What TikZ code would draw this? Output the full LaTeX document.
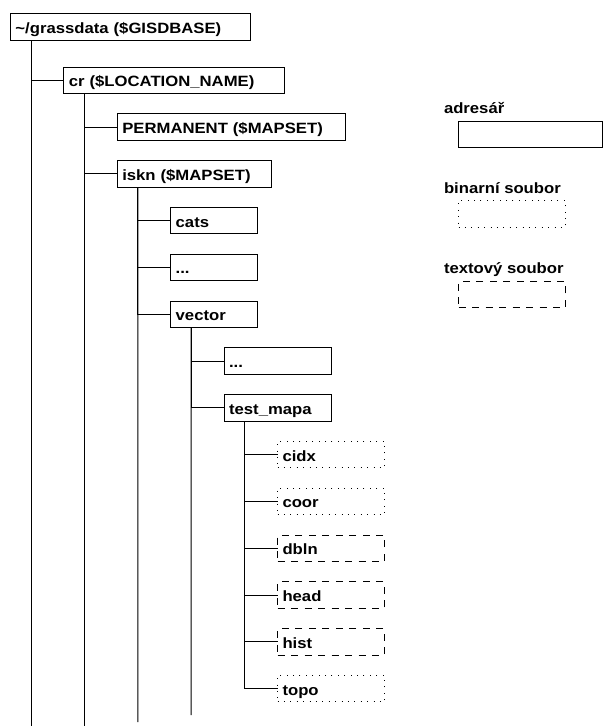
\documentclass[tikz,border=0pt]{standalone}
\usepackage{fontspec}
\setmainfont{Liberation Sans}[FakeStretch=1.12]

\tikzstyle{every node}=[font=\fontsize{14.9}{17}\selectfont\bfseries, inner sep=0pt, outer sep=0pt, anchor=west]
\tikzstyle{dir} = [draw, line width=1pt, inner xsep=5pt, minimum height=26.5pt, text height=13pt, text depth=0pt, align=left]
\tikzstyle{bin} = [dir, dash pattern=on 1pt off 5.4pt, text width=97pt]
\tikzstyle{txt} = [dir, dash pattern=on 7pt off 6.5pt, text width=97pt]
\tikzstyle{lbl} = [anchor=base west]

\begin{document}
\begin{tikzpicture}[x=1pt, y=1pt, line width=1pt]
  \useasboundingbox (0,0) rectangle (603,-726);
  \node[dir, text width=230pt] (gd) at (10.5,-26.75) {\textasciitilde/grassdata (\$GISDBASE)};
  \node[dir, text width=211pt] (cr) at ([shift={(53.4,-53.5)}]gd.west) {cr (\$LOCATION\_NAME)};
  \node[dir, text width=218pt] (perm) at ([shift={(53.4,-46.8)}]cr.west) {PERMANENT (\$MAPSET)};
  \node[dir, text width=144pt] (iskn) at ([shift={(53.4,-93.6)}]cr.west) {iskn (\$MAPSET)};
  \node[dir, text width=77pt] (cats) at ([shift={(53.4,-46.8)}]iskn.west) {cats};
  \node[dir, text width=77pt] (dots1) at ([shift={(53.4,-93.6)}]iskn.west) {...};
  \node[dir, text width=77pt] (vect) at ([shift={(53.4,-140.4)}]iskn.west) {vector};
  \node[dir, text width=97pt] (dots2) at ([shift={(53.4,-46.8)}]vect.west) {...};
  \node[dir, text width=97pt] (tmap) at ([shift={(53.4,-93.6)}]vect.west) {test\_mapa};
  % files of the vector map
  \foreach \n/\s [count=\i] in {cidx/bin, coor/bin, dbln/txt, head/txt, hist/txt, topo/bin}
  {
    \node[\s] (\n) at ([shift={(53.4,-46.8*\i)}]tmap.west) {\n};
    \draw ([xshift=20.5pt]tmap.south west) |- (\n.west);
  }
  \foreach \p/\c in {gd/cr, cr/perm, cr/iskn, iskn/cats, iskn/dots1, iskn/vect, vect/dots2, vect/tmap}
    \draw ([xshift=20.5pt]\p.south west) |- (\c.west);
  % trunks running on below the tree
  \coordinate (gdend) at (31,-726);
  \coordinate (crend) at (84.4,-726);
  \coordinate (isknend) at (137.8,-722);
  \coordinate (vectend) at (191.2,-715);
  \draw ([xshift=20.5pt]gd.south west) -- (gdend);
  \draw ([xshift=20.5pt]cr.south west) -- (crend);
  \draw ([xshift=20.5pt]iskn.south west) -- (isknend);
  \draw ([xshift=20.5pt]vect.south west) -- (vectend);
  % legend
  \node[lbl] (ladr) at (444,-113) {adresář};
  \node[dir, text width=134pt] (kadr) at (458.5,-134.5) {};
  \node[lbl] (lbin) at (444,-193.5) {binarní soubor};
  \node[bin] (kbin) at (458.5,-214) {};
  \node[lbl] (ltxt) at (444,-273.5) {textový soubor};
  \node[txt] (ktxt) at (458.5,-294.5) {};
\end{tikzpicture}
\end{document}
